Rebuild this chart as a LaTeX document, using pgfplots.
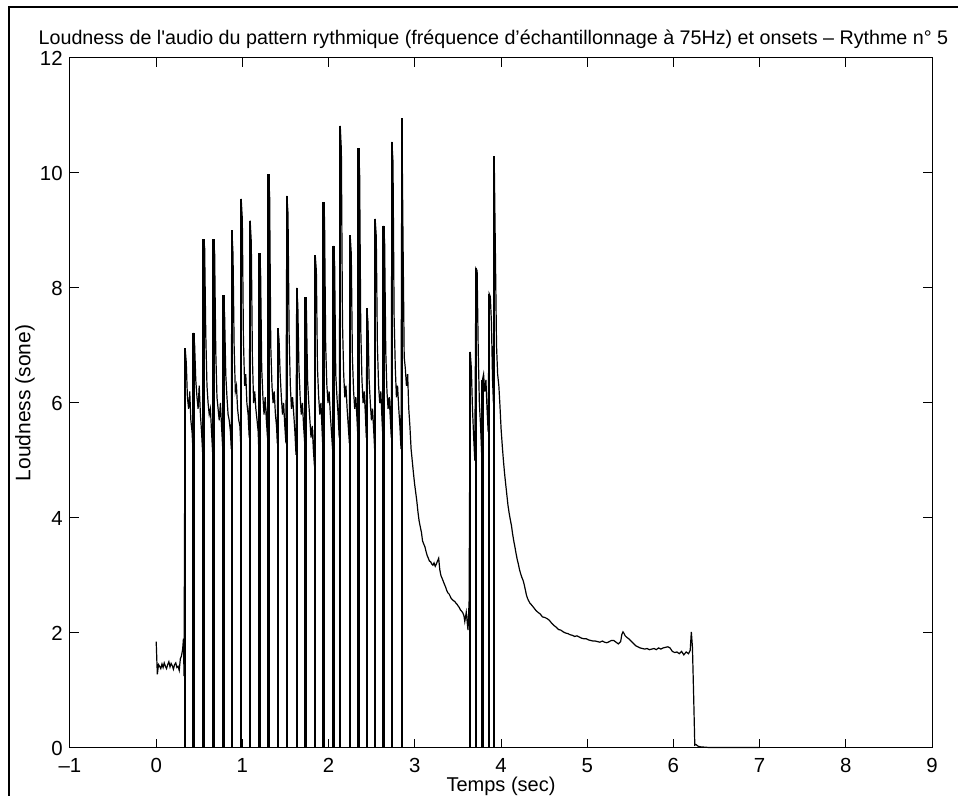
\documentclass[border=0pt]{standalone}
\usepackage{pgfplots}
\pgfplotsset{compat=1.18}
\usepackage{fontspec}
\setmainfont{Liberation Sans}
\begin{document}
\begin{tikzpicture}
\useasboundingbox (0pt,0pt) rectangle (479pt,398pt);
\draw[line width=1pt] (4.5pt,0pt) -- (4.5pt,394.25pt) -- (479pt,394.25pt);
\begin{axis}[
  at={(35pt,24pt)}, anchor=south west,
  scale only axis, width=431pt, height=345pt,
  xmin=-1, xmax=9, ymin=0, ymax=12,
  xtick={-1,0,...,9},
  xticklabels={\textendash1,0,1,2,3,4,5,6,7,8,9},
  ytick={0,2,...,12},
  font=\fontsize{10.2pt}{12pt}\selectfont,
  /pgf/number format/assume math mode=true,
  tick align=inside, major tick length=4.5pt,
  axis line style={line width=0.5pt},
  every tick/.style={black, line width=0.5pt},
  xticklabel style={anchor=north, inner sep=0pt, yshift=-4.8pt},
  yticklabel style={anchor=east, inner sep=0pt, xshift=-3.5pt},
  xlabel={Temps (sec)},
  xlabel style={at={(axis description cs:0.5,0)}, anchor=base, yshift=-22pt, inner sep=0pt, font=\fontsize{10pt}{12pt}\selectfont},
  ylabel={Loudness (sone)},
  ylabel style={at={(axis description cs:-0.0522,0.5)}, anchor=center, inner sep=0pt, font=\fontsize{10.5pt}{12pt}\selectfont},
  clip=false,
]
% onsets
\addplot[ycomb, black, line width=1.2pt, mark=none] coordinates {
(0.336,6.95) (0.433,7.22) (0.549,8.85) (0.665,8.85) (0.781,7.87) (0.878,9.00)
(0.986,9.55) (1.090,9.17) (1.198,8.60) (1.303,9.98) (1.412,7.30) (1.516,9.60)
(1.630,8.00) (1.730,7.84) (1.845,8.57) (1.940,9.49) (2.057,8.73) (2.135,10.82)
(2.250,8.92) (2.347,10.43) (2.444,7.65) (2.540,9.20) (2.637,9.08) (2.734,10.54)
(2.850,10.95) (3.643,6.89) (3.709,8.34) (3.785,6.40) (3.863,7.90) (3.921,10.29)
};
% loudness
\addplot[black, line width=0.6pt, mark=none] coordinates {
(0.000,1.85) (0.013,1.28) (0.027,1.45) (0.040,1.42) (0.053,1.38) (0.067,1.46)
(0.080,1.40) (0.093,1.48) (0.107,1.42) (0.120,1.38) (0.133,1.45) (0.147,1.50)
(0.160,1.41) (0.173,1.47) (0.187,1.43) (0.200,1.37) (0.213,1.45) (0.227,1.48)
(0.240,1.40) (0.253,1.42) (0.267,1.35) (0.280,1.55) (0.293,1.60) (0.307,1.72)
(0.316,1.90) (0.323,1.25)
(0.336,6.95) (0.349,6.7) (0.362,6.1) (0.376,5.9) (0.389,6.2) (0.402,5.7) (0.416,5.5) (0.426,5.2)
(0.433,7.22) (0.446,7.0) (0.459,6.4) (0.473,6.1) (0.486,5.9) (0.499,6.3) (0.513,5.8) (0.526,5.5) (0.540,5.1)
(0.549,8.85) (0.562,8.7) (0.575,7.2) (0.589,6.3) (0.602,6.0) (0.615,5.8) (0.629,5.9) (0.642,5.5) (0.656,5.1)
(0.665,8.85) (0.678,8.6) (0.691,6.9) (0.705,6.1) (0.718,5.9) (0.731,5.7) (0.745,6.0) (0.758,5.6) (0.772,5.2)
(0.781,7.87) (0.794,7.5) (0.807,6.5) (0.821,6.1) (0.834,5.8) (0.847,5.7) (0.861,5.5) (0.871,5.2)
(0.878,9.00) (0.891,8.6) (0.904,7.0) (0.918,6.2) (0.931,6.3) (0.944,5.9) (0.958,5.7) (0.971,5.6) (0.980,5.3)
(0.986,9.55) (0.999,9.2) (1.012,7.1) (1.026,6.3) (1.039,6.5) (1.052,6.0) (1.066,5.8) (1.079,5.4)
(1.090,9.17) (1.103,8.8) (1.116,6.8) (1.130,6.0) (1.143,6.2) (1.156,5.9) (1.170,5.7) (1.183,5.5) (1.192,5.1)
(1.198,8.60) (1.211,8.3) (1.224,6.6) (1.238,6.1) (1.251,5.8) (1.264,6.1) (1.278,5.7) (1.291,5.4)
(1.303,9.98) (1.316,9.6) (1.329,7.0) (1.343,6.3) (1.356,6.0) (1.369,6.2) (1.383,5.8) (1.396,5.6) (1.405,5.3)
(1.412,7.30) (1.425,7.1) (1.438,6.5) (1.452,6.1) (1.465,5.8) (1.478,6.0) (1.492,5.6) (1.505,5.3)
(1.516,9.60) (1.529,9.3) (1.542,7.2) (1.556,6.3) (1.569,5.9) (1.582,6.1) (1.596,5.8) (1.609,5.5) (1.622,5.1)
(1.630,8.00) (1.643,7.7) (1.656,6.6) (1.670,6.1) (1.683,5.8) (1.696,6.0) (1.710,5.6) (1.723,5.3)
(1.730,7.84) (1.743,7.6) (1.756,6.4) (1.770,6.0) (1.783,5.7) (1.796,5.4) (1.810,5.6) (1.823,5.2) (1.836,4.9)
(1.845,8.57) (1.858,8.3) (1.871,6.6) (1.885,6.1) (1.898,5.8) (1.911,6.0) (1.925,5.5) (1.934,5.2)
(1.940,9.49) (1.953,9.2) (1.966,7.0) (1.980,6.3) (1.993,6.0) (2.006,6.2) (2.020,5.8) (2.033,5.5) (2.046,5.2)
(2.057,8.73) (2.070,8.4) (2.083,6.5) (2.097,6.1) (2.110,5.8) (2.123,5.4)
(2.135,10.82) (2.148,10.4) (2.161,7.4) (2.175,6.5) (2.188,6.1) (2.201,6.3) (2.215,5.9) (2.228,5.6) (2.241,5.3)
(2.250,8.92) (2.263,8.6) (2.276,6.8) (2.290,6.2) (2.303,5.9) (2.316,6.1) (2.330,5.7) (2.340,5.4)
(2.347,10.43) (2.360,10.0) (2.373,7.3) (2.387,6.4) (2.400,6.0) (2.413,6.2) (2.427,5.8) (2.437,5.4)
(2.444,7.65) (2.457,7.4) (2.470,6.4) (2.484,6.0) (2.497,5.7) (2.510,5.9) (2.524,5.5) (2.534,5.2)
(2.540,9.20) (2.553,8.9) (2.566,7.0) (2.580,6.3) (2.593,6.0) (2.606,6.2) (2.620,5.7) (2.630,5.4)
(2.637,9.08) (2.650,8.8) (2.663,6.9) (2.677,6.2) (2.690,5.9) (2.703,6.1) (2.717,5.7) (2.727,5.4)
(2.734,10.54) (2.747,10.2) (2.760,7.5) (2.774,6.6) (2.787,6.1) (2.800,6.3) (2.814,5.9) (2.827,5.6) (2.840,5.2)
(2.850,10.95) (2.863,8.9) (2.877,6.8) (2.890,6.6) (2.903,6.3) (2.917,6.5) (2.930,5.9) (2.943,5.6)
(2.957,5.2) (2.970,5.0) (2.983,4.8) (2.997,4.6) (3.010,4.45) (3.023,4.3) (3.037,4.1) (3.050,3.95)
(3.063,3.85) (3.077,3.75) (3.090,3.6) (3.103,3.55) (3.117,3.5) (3.130,3.42) (3.143,3.35) (3.157,3.3)
(3.170,3.25) (3.183,3.24) (3.197,3.2) (3.210,3.18) (3.223,3.22) (3.237,3.16) (3.250,3.2) (3.263,3.25)
(3.277,3.3) (3.290,3.1) (3.303,3.0) (3.317,2.95) (3.330,2.9) (3.343,2.85) (3.357,2.8) (3.370,2.74)
(3.383,2.7) (3.397,2.68) (3.410,2.64) (3.423,2.6) (3.437,2.58) (3.450,2.56) (3.463,2.55) (3.477,2.52)
(3.490,2.5) (3.503,2.47) (3.517,2.44) (3.530,2.4) (3.543,2.38) (3.557,2.35) (3.570,2.3) (3.580,2.2)
(3.597,2.36) (3.617,2.05) (3.630,2.55)
(3.643,6.89) (3.656,6.6) (3.669,5.9) (3.683,5.4) (3.696,5.0)
(3.709,8.34) (3.723,8.30) (3.736,6.9) (3.749,6.0) (3.763,5.6) (3.776,5.1)
(3.785,6.40) (3.798,6.5) (3.811,6.2) (3.825,6.4) (3.838,5.9) (3.851,5.5)
(3.863,7.90) (3.876,7.85) (3.889,7.4) (3.902,6.4) (3.912,6.0)
(3.921,10.29) (3.935,8.6) (3.948,7.0) (3.961,6.5) (3.975,6.3) (3.988,5.95) (4.001,5.55) (4.015,5.25)
(4.028,5.0) (4.041,4.78) (4.055,4.58) (4.068,4.4) (4.081,4.22) (4.095,4.08) (4.108,3.97) (4.121,3.87)
(4.135,3.72) (4.148,3.6) (4.161,3.5) (4.175,3.38) (4.188,3.28) (4.201,3.2) (4.215,3.1) (4.228,3.03)
(4.241,2.97) (4.255,2.92) (4.268,2.85) (4.281,2.76) (4.295,2.66) (4.308,2.6) (4.321,2.56) (4.335,2.52)
(4.348,2.5) (4.375,2.45) (4.401,2.4) (4.428,2.36) (4.455,2.33) (4.481,2.28) (4.508,2.27) (4.535,2.25)
(4.561,2.22) (4.588,2.17) (4.615,2.13) (4.641,2.1) (4.668,2.06) (4.695,2.05) (4.721,2.02) (4.748,2.0)
(4.775,1.99) (4.801,1.97) (4.828,1.96) (4.855,1.94) (4.881,1.95) (4.908,1.93) (4.935,1.91) (4.961,1.9)
(4.988,1.9) (5.015,1.88) (5.041,1.87) (5.068,1.86) (5.095,1.86) (5.121,1.85) (5.148,1.84) (5.175,1.86)
(5.201,1.84) (5.228,1.83) (5.255,1.85) (5.281,1.87) (5.308,1.87) (5.335,1.84) (5.361,1.81) (5.388,1.85)
(5.401,1.97) (5.415,2.02) (5.428,1.99) (5.441,1.95) (5.455,1.93) (5.481,1.9) (5.508,1.86) (5.535,1.82)
(5.561,1.78) (5.588,1.76) (5.615,1.74) (5.641,1.73) (5.668,1.72) (5.695,1.73) (5.721,1.71) (5.748,1.72)
(5.775,1.73) (5.801,1.71) (5.828,1.74) (5.855,1.72) (5.881,1.74) (5.908,1.75) (5.935,1.76) (5.961,1.74)
(5.988,1.68) (6.015,1.66) (6.041,1.67) (6.068,1.64) (6.095,1.68) (6.121,1.62) (6.148,1.67) (6.175,1.64)
(6.195,1.70) (6.208,2.02) (6.221,1.75) (6.235,0.9) (6.248,0.05) (6.261,0.06) (6.288,0.03) (6.315,0.02)
(6.400,0.01) (6.600,0.01) (6.800,0.01) (7.000,0.01)
};
\end{axis}
\node[anchor=base, inner sep=0pt, font=\fontsize{9.85pt}{12pt}\selectfont] at (246.75pt,375.5pt)
  {Loudness de l\textquotesingle audio du pattern rythmique (fréquence d’échantillonnage à 75Hz) et onsets – Rythme n° 5};
\end{tikzpicture}
\end{document}
